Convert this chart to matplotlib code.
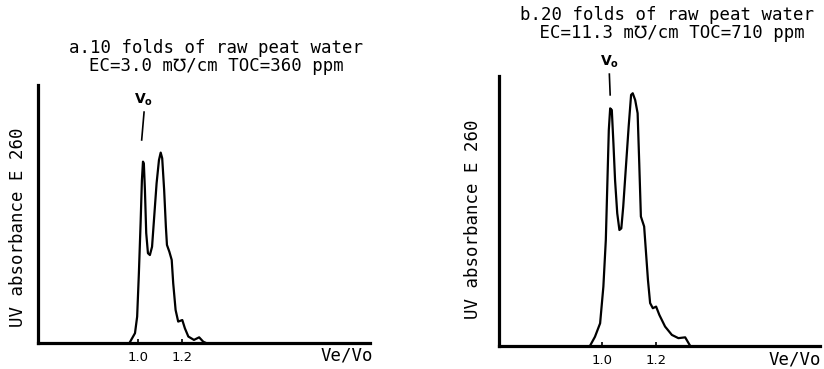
import matplotlib
matplotlib.use("Agg")
import matplotlib.pyplot as plt

# ---- data (Ve/Vo, relative UV absorbance in % of axis height) ----
a_x = [0.961, 0.984, 0.994, 1.002, 1.010, 1.016, 1.021, 1.025, 1.030, 1.036,
       1.044, 1.053, 1.063, 1.073, 1.084, 1.095, 1.103, 1.110, 1.119, 1.127,
       1.132, 1.143, 1.154, 1.161, 1.172, 1.184, 1.203, 1.215, 1.231, 1.257,
       1.281, 1.300, 1.313]
a_y = [0.4, 3.8, 10.2, 27, 46.5, 63, 70.3, 69.6, 59.3, 42.6,
       34.8, 34.1, 37.3, 49, 61.9, 70.9, 73.8, 71.6, 59.3, 45.1,
       38, 35.4, 32.2, 23.1, 12.8, 8.3, 8.9, 5.7, 2.5, 1.2,
       2.2, 0.5, 0]

b_x = [0.957, 0.975, 0.994, 1.006, 1.015, 1.021, 1.026, 1.031, 1.037, 1.043,
       1.049, 1.057, 1.065, 1.072, 1.079, 1.089, 1.099, 1.108, 1.114, 1.123,
       1.132, 1.138, 1.144, 1.156, 1.163, 1.170, 1.178, 1.188, 1.200, 1.212,
       1.233, 1.258, 1.282, 1.307, 1.325]
b_y = [0, 3.3, 8.3, 21.9, 39.2, 61.4, 80, 88, 87.4, 75,
       61.4, 49.1, 42.9, 43.5, 51.5, 66.4, 81.2, 93, 93.6, 91.1,
       86.2, 67.6, 47.9, 44.2, 34.3, 24.4, 15.8, 13.9, 14.5, 11.4,
       7.1, 4, 2.8, 3.1, 0]

tick_vals = [1.0, 1.2]
tick_labels = ["1.0", "1.2"]

titles = ["a.10 folds of raw peat water\nEC=3.0 m\u2127/cm TOC=360 ppm",
          "b.20 folds of raw peat water\n EC=11.3 m\u2127/cm TOC=710 ppm"]
ylabel = "UV absorbance E 260"
xlabel = "Ve/Vo"

# Vo marker lines ([x0, x1], [y0, y1])
a_vo = ([1.026, 1.015], [89.5, 78.7])
b_vo = ([1.028, 1.031], [100.7, 93.0])

mono = ["DejaVu Sans Mono", "DejaVu Sans"]
FS = 12.5

fig = plt.figure(figsize=(8.24, 3.69), dpi=100)
W, H = 824, 369

def px_axes(l, t, r, b):
    return fig.add_axes([l / W, 1 - b / H, (r - l) / W, (b - t) / H])

ax_a = px_axes(38, 85, 370, 343)
ax_b = px_axes(499, 76, 820, 345.7)

setups = [
    (ax_a, a_x, a_y, (0.535, 2.072), a_vo),
    (ax_b, b_x, b_y, (0.622, 1.803), b_vo),
]

for ax, xs, ys, xl, vo in setups:
    ax.plot(xs, ys, color="black", lw=1.6, solid_joinstyle="round")
    ax.set_xlim(*xl)
    ax.set_ylim(0, 100)
    for s in ["top", "right"]:
        ax.spines[s].set_visible(False)
    for s in ["left", "bottom"]:
        ax.spines[s].set_linewidth(2.3)
    ax.set_yticks([])
    ax.set_xticks(tick_vals)
    ax.set_xticklabels(tick_labels, fontsize=9.5)
    ax.tick_params(axis="x", direction="in", length=3, width=1.2, pad=6)
    ax.plot(vo[0], vo[1], color="black", lw=1.2, clip_on=False)
    ax.text(vo[0][0], vo[1][0] + 1.5, r"$\mathbf{V_o}$", ha="center", va="bottom",
            fontsize=10, clip_on=False)

# titles
fig.text(216 / W, 1 - 57 / H, titles[0], ha="center", va="center",
         family=mono, fontsize=FS, linespacing=1.05)
fig.text(667 / W, 1 - 24 / H, titles[1], ha="center", va="center",
         family=mono, fontsize=FS, linespacing=1.05)

# y labels
fig.text(18 / W, 1 - 227 / H, ylabel, rotation=90, ha="center", va="center",
         family=mono, fontsize=FS)
fig.text(473 / W, 1 - 219 / H, ylabel, rotation=90, ha="center", va="center",
         family=mono, fontsize=FS)

# x labels
fig.text(373 / W, 1 - 356 / H, xlabel, ha="right", va="center",
         family=mono, fontsize=FS)
fig.text(821 / W, 1 - 360 / H, xlabel, ha="right", va="center",
         family=mono, fontsize=FS)

fig.savefig("out.png", dpi=100)
